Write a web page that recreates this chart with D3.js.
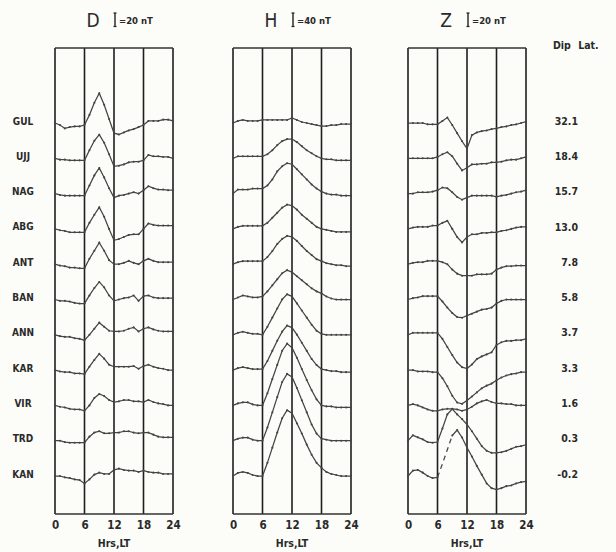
<!DOCTYPE html>
<html>
<head>
<meta charset="utf-8">
<script src="https://cdn.jsdelivr.net/npm/d3@7"></script>
<style>
    body { margin: 0; background: #fcfcf8; }
    text { font-family: "DejaVu Sans Condensed", "DejaVu Sans", sans-serif; fill: #2a2a2a; }
</style>
</head>
<body>
<script>
// hourly values 0..24 LT, nT (up = positive)
const hours = d3.range(0, 25);
const stations = ["GUL", "UJJ", "NAG", "ABG", "ANT", "BAN", "ANN", "KAR", "VIR", "TRD", "KAN"];
const dipLat = ["32.1", "18.4", "15.7", "13.0", "7.8", "5.8", "3.7", "3.3", "1.6", "0.3", "-0.2"];
const components = ["D", "H", "Z"];
const scaleBars = [20, 40, 20];
const tickHours = [0, 6, 12, 18, 24];

const dValues = [
    [0,-3,-8,-6,-5,-5,-3,12,30,44,27,6,-15,-17,-14,-11,-9,-6,-3,3,3,3,5,5,3],
    [0,-2,-2,-3,-3,-3,-3,12,26,35,23,6,-12,-11,-9,-6,-5,-5,-3,5,3,3,2,2,0],
    [0,-2,-3,-3,-3,-3,-3,12,27,38,24,8,-6,-3,-2,0,2,0,5,11,8,6,6,5,5],
    [0,-2,-3,-5,-5,-5,-5,9,21,32,18,0,-17,-15,-12,-9,-8,-8,0,8,6,5,5,5,5],
    [0,-2,-3,-5,-5,-6,-6,8,20,32,20,6,0,0,2,5,2,0,5,8,5,3,3,3,3],
    [0,-2,-2,-3,-5,-6,-6,6,17,26,18,6,-2,0,2,3,6,-2,5,6,3,2,2,2,2],
    [0,-2,-3,-3,-5,-6,-8,0,9,18,12,6,5,5,6,9,11,5,9,11,8,6,5,5,5],
    [0,-2,-3,-3,-5,-5,-6,5,15,24,17,8,5,5,5,5,6,2,6,8,5,3,2,0,0],
    [0,-2,-3,-5,-6,-6,-8,0,11,17,14,8,5,6,8,8,6,6,5,8,5,3,2,0,0],
    [0,0,-2,-3,-3,-3,-3,6,12,14,11,11,12,12,14,14,12,11,12,12,9,6,5,5,5],
    [0,0,-2,-3,-5,-6,-11,-5,2,5,3,3,9,11,9,8,8,6,8,6,5,5,3,3,3]
];

const hValues = [
    [0,6,9,6,6,6,9,9,9,9,9,9,15,9,3,0,-3,-6,-9,-9,-6,-6,-3,-3,-3],
    [0,6,6,6,6,6,6,12,24,39,51,57,57,48,36,24,15,6,0,-3,-3,-6,-6,-6,-6],
    [0,12,12,12,15,15,15,24,42,66,81,90,87,72,57,42,27,15,6,0,-3,-3,-6,-6,-6],
    [0,6,9,9,9,9,9,18,33,48,63,72,69,57,42,30,18,6,0,-3,-6,-9,-9,-9,-9],
    [0,6,9,9,9,9,9,21,39,60,75,84,81,69,54,39,27,15,9,3,0,-3,-3,-6,-6],
    [0,6,12,9,6,6,9,24,42,60,78,87,81,69,57,45,33,24,18,9,3,0,0,0,0],
    [0,6,9,6,3,3,0,24,51,78,105,120,114,93,72,51,30,12,3,0,0,0,0,0,0],
    [0,6,9,6,3,3,3,27,57,87,114,132,126,105,81,57,33,15,3,0,-3,-3,-6,-6,-6],
    [0,6,9,9,3,0,0,36,78,120,162,183,171,141,108,75,45,18,0,-3,-3,-6,-6,-6,-6],
    [0,6,9,9,3,0,0,39,84,129,174,198,189,156,120,84,48,21,6,3,0,0,0,0,0],
    [0,9,12,9,3,0,0,39,84,129,171,195,186,156,126,93,63,39,24,12,6,3,0,0,0]
];

const zValues = [
    [0,0,0,0,-2,-2,-2,3,8,-3,-15,-27,-38,-18,-14,-12,-11,-9,-8,-6,-5,-3,-2,0,2],
    [0,0,0,0,0,0,2,6,9,3,-8,-18,-14,-9,-9,-8,-8,-6,-6,-5,-3,-2,-2,0,2],
    [0,0,2,2,2,3,5,9,8,2,-5,-9,-6,-3,-3,-3,-3,-3,-5,-3,-2,0,2,3,5],
    [0,2,3,3,3,5,5,9,12,0,-12,-20,-12,-8,-8,-6,-6,-5,-5,-3,-2,0,2,3,3],
    [0,2,3,3,5,5,5,3,0,-8,-14,-17,-17,-17,-15,-15,-15,-14,-8,-5,-3,-3,-2,-2,-2],
    [0,2,3,5,5,5,5,-3,-12,-20,-26,-27,-24,-21,-18,-15,-14,-12,-6,-2,0,0,0,0,0],
    [0,3,3,3,3,3,3,-6,-18,-30,-41,-48,-50,-44,-36,-32,-29,-26,-15,-11,-9,-9,-8,-8,-6],
    [0,0,-2,-2,-2,-3,-3,-12,-24,-38,-48,-50,-45,-39,-33,-27,-23,-20,-15,-11,-8,-6,-5,-3,-3],
    [0,2,0,-3,-6,-8,-8,-6,-5,-5,-6,-8,-6,-2,3,6,8,5,3,3,2,2,0,0,0],
    [0,8,5,2,-2,-3,-2,18,39,47,39,32,24,14,3,-8,-15,-18,-18,-17,-15,-12,-9,-8,-6],
    [0,8,9,5,0,-3,-2,18,39,60,68,57,42,29,15,2,-11,-18,-20,-18,-15,-14,-11,-9,-8]
];

// stretch of missing record drawn dashed
const dashedParts = [{ comp: "Z", station: "KAN", from: 6, to: 9 }];

const allValues = [dValues, hValues, zValues];

// layout
const width = 616, height = 552;
const boxTop = 48, boxBottom = 514, panelW = 118;
const panelLeft = [55, 233, 408];
const barPx = 13.5;

const svg = d3.select("body").append("svg")
    .attr("width", width)
    .attr("height", height);

const yStation = d3.scalePoint().domain(stations).range([123, 476]);

components.forEach((comp, ci) => {
    const left = panelLeft[ci];
    const x = d3.scaleLinear().domain([0, 24]).range([left, left + panelW]);
    const dy = d3.scaleLinear().domain([0, scaleBars[ci]]).range([0, -barPx]);
    const g = svg.append("g");

    // frame + hour lines
    g.selectAll("line.hour")
        .data(tickHours)
        .enter()
        .append("line")
        .attr("x1", d => x(d)).attr("x2", d => x(d))
        .attr("y1", boxTop).attr("y2", boxBottom)
        .attr("stroke", "#1e1e1e").attr("stroke-width", 1.6);
    [boxTop, boxBottom].forEach(yy => {
        g.append("line")
            .attr("x1", x(0)).attr("x2", x(24))
            .attr("y1", yy).attr("y2", yy)
            .attr("stroke", "#333").attr("stroke-width", 1.3);
    });

    // hour labels
    const axis = d3.axisBottom(x).tickValues(tickHours).tickSize(0).tickPadding(7);
    const ax = g.append("g").attr("transform", `translate(0,${boxBottom})`).call(axis);
    ax.select(".domain").remove();
    ax.selectAll("text")
        .style("font-family", '"DejaVu Sans Condensed", sans-serif')
        .style("font-size", "11.5px")
        .style("font-weight", "bold")
        .attr("fill", "#2a2a2a");

    g.append("text")
        .attr("x", x(12)).attr("y", 547)
        .attr("text-anchor", "middle")
        .style("font-size", "10.5px").style("font-weight", "bold")
        .text("Hrs,LT");

    // title and scale bar
    g.append("text")
        .attr("x", left + 38).attr("y", 27)
        .attr("text-anchor", "middle")
        .style("font-size", "19px").style("font-weight", "200")
        .text(comp);
    const bx = left + 60;
    g.append("line").attr("x1", bx).attr("x2", bx).attr("y1", 13).attr("y2", 13 + barPx)
        .attr("stroke", "#222").attr("stroke-width", 1.4);
    [13, 13 + barPx].forEach(yy => {
        g.append("line").attr("x1", bx - 1.5).attr("x2", bx + 1.5).attr("y1", yy).attr("y2", yy)
            .attr("stroke", "#222").attr("stroke-width", 1.2);
    });
    g.append("text")
        .attr("x", bx + 4).attr("y", 23.5)
        .style("font-size", "9.5px").style("font-weight", "bold")
        .text(`=${scaleBars[ci]} nT`);

    // traces
    stations.forEach((st, si) => {
        const vals = allValues[ci][si];
        const base = yStation(st);
        const gaps = dashedParts.filter(p => p.comp === comp && p.station === st);
        const inGap = h => gaps.some(p => h > p.from && h < p.to);

        const line = d3.line()
            .defined((v, i) => !inGap(hours[i]))
            .x((v, i) => x(hours[i]))
            .y(v => base + dy(v));

        g.append("path")
            .datum(vals)
            .attr("fill", "none")
            .attr("stroke", "#444")
            .attr("stroke-width", 1.25)
            .attr("d", line);

        // missing stretch
        gaps.forEach(p => {
            const seg = hours.filter(h => h >= p.from && h <= p.to);
            g.append("path")
                .datum(seg)
                .attr("fill", "none")
                .attr("stroke", "#444")
                .attr("stroke-width", 1.25)
                .attr("stroke-dasharray", "5,4")
                .attr("d", d3.line().x(h => x(h)).y(h => base + dy(vals[h])));
        });

        // hourly dots
        g.selectAll(null)
            .data(hours.filter(h => !inGap(h)))
            .enter()
            .append("circle")
            .attr("cx", h => x(h))
            .attr("cy", h => base + dy(vals[h]))
            .attr("r", 1.05)
            .attr("fill", "#444");
    });
});

// station names and dip latitudes
svg.selectAll("text.st")
    .data(stations)
    .enter()
    .append("text")
    .attr("class", "st")
    .attr("x", 23)
    .attr("y", d => yStation(d) - 2)
    .attr("dy", "0.35em")
    .attr("text-anchor", "middle")
    .style("font-size", "10px").style("font-weight", "bold")
    .text(d => d);

svg.selectAll("text.lat")
    .data(dipLat)
    .enter()
    .append("text")
    .attr("class", "lat")
    .attr("x", 578)
    .attr("y", (d, i) => yStation(stations[i]) - 2)
    .attr("dy", "0.35em")
    .attr("text-anchor", "end")
    .style("font-size", "10.5px").style("font-weight", "bold")
    .text(d => d);

svg.append("text")
    .attr("x", 553).attr("y", 49)
    .style("font-size", "10.5px").style("font-weight", "bold")
    .style("word-spacing", "4px")
    .text("Dip Lat.");
</script>
</body>
</html>
